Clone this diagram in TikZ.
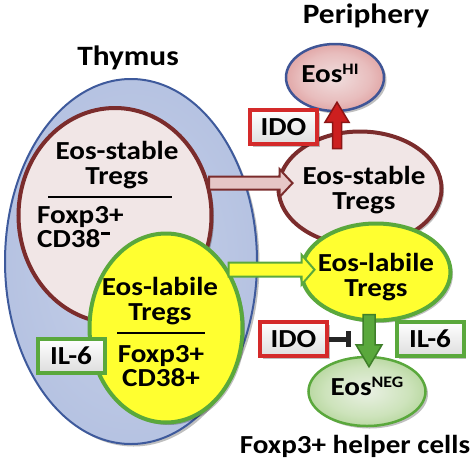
\documentclass[tikz,border=0pt]{standalone}
\usepackage{fontspec}
\setmainfont{Carlito}[FakeStretch=1.12]
\usetikzlibrary{shapes.geometric,arrows.meta,calc,shadows}
\definecolor{thyin}{HTML}{C6D0E9}
\definecolor{thyout}{HTML}{9DAED6}
\definecolor{thyborder}{HTML}{3E5A9C}
\definecolor{maroon}{HTML}{7B2C2C}
\definecolor{stin}{HTML}{F1E6E6}
\definecolor{stout}{HTML}{E6D2D2}
\definecolor{yel}{HTML}{FFFF30}
\definecolor{grn}{HTML}{5AA83C}
\definecolor{dkgrn}{HTML}{3F7F2A}
\definecolor{hiin}{HTML}{F0DEDE}
\definecolor{himid}{HTML}{E8BDBD}
\definecolor{hiout}{HTML}{CA5C5C}
\definecolor{hiborder}{HTML}{3F5596}
\definecolor{negin}{HTML}{E9F0E3}
\definecolor{negmid}{HTML}{CDE3BB}
\definecolor{negout}{HTML}{78B54E}
\definecolor{idored}{HTML}{D42A2A}
\definecolor{redfill}{HTML}{CC1F1F}
\definecolor{redborder}{HTML}{8B1515}
\definecolor{pinkfill}{HTML}{E6C6C6}
\definecolor{boxgray}{HTML}{DEDEDE}
\pgfdeclareradialshading{thyshade}{\pgfpoint{0bp}{0bp}}{color(0bp)=(thyin); color(25bp)=(thyin!60!thyout); color(50bp)=(thyout)}
\pgfdeclareradialshading{stshade}{\pgfpoint{0bp}{0bp}}{color(0bp)=(stin); color(30bp)=(stin); color(50bp)=(stout)}
\pgfdeclareradialshading{hishade}{\pgfpoint{0bp}{0bp}}{color(0bp)=(hiin); color(18bp)=(himid); color(50bp)=(hiout)}
\pgfdeclareradialshading{negshade}{\pgfpoint{0bp}{0bp}}{color(0bp)=(negin); color(18bp)=(negmid); color(50bp)=(negout)}
\newcommand\blockarrow[6]{%
  \path (#2) coordinate (ba-s) (#3) coordinate (ba-e);
  \path ($(ba-e)!#6!(ba-s)$) coordinate (ba-h);
  \draw[#1] ($(ba-s)!#4!90:(ba-e)$) -- ($(ba-h)!#4!-90:(ba-s)$) -- ($(ba-h)!#5!-90:(ba-s)$) -- (ba-e) -- ($(ba-h)!#5!90:(ba-s)$) -- ($(ba-h)!#4!90:(ba-s)$) -- ($(ba-s)!#4!-90:(ba-e)$) -- cycle;}
\begin{document}
\begin{tikzpicture}[x=1pt,y=-1pt,
  font=\fontsize{26}{26}\selectfont\bfseries,
  shad/.style={drop shadow={opacity=0.25, shadow xshift=2.5pt, shadow yshift=-2.5pt, fill=black}},
  ell/.style={ellipse, inner sep=0pt, shad},
  stable/.style={ell, shading=stshade, draw=maroon, line width=4pt},
  labile/.style={ell, fill=yel, draw=grn, line width=4pt},
  txt/.style={anchor=base, inner sep=0pt},
  ltxt/.style={anchor=base west, inner sep=0pt},
  box/.style={rectangle, minimum width=67pt, minimum height=34pt, line width=4pt, top color=white, bottom color=boxgray, inner sep=0pt, shad},
  idobox/.style={box, draw=idored},
  ilbox/.style={box, draw=grn},
  divider/.style={line width=2pt, black},
  pinkarrow/.style={fill=pinkfill, draw=maroon, line width=2pt},
  yelarrow/.style={fill=yel, draw=grn, line width=2pt},
  redarrow/.style={fill=redfill, draw=redborder, line width=1.5pt},
  grnarrow/.style={fill=grn, draw=dkgrn, line width=1.5pt},
  inhib/.style={line width=5pt, black!85, -{Bar[width=16pt, line width=5pt]}},
  title/.style={anchor=base, inner sep=0pt, font=\fontsize{28}{28}\selectfont\bfseries}
]
\useasboundingbox (0,0) rectangle (474,464);
% thymus
\node[ell, shading=thyshade, draw=thyborder, line width=2pt, minimum width=252pt, minimum height=365pt] (thy) at (131,261.5) {};
\node[stable, minimum width=193pt, minimum height=215pt] (ts) at (115,215.5) {};
\node[labile, minimum width=153pt, minimum height=189pt] (tl) at (166,328) {};
% periphery
\node[stable, minimum width=163pt, minimum height=114pt] (ps) at (360,188.5) {};
\node[labile, minimum width=149pt, minimum height=97pt] (pl) at (376,272) {};
\node[ell, shading=hishade, draw=hiborder, line width=2.5pt, minimum width=98pt, minimum height=67pt] (eh) at (335,77.5) {};
\node[ell, shading=negshade, draw=grn, line width=2.5pt, minimum width=117pt, minimum height=69pt] (en) at (367,391.5) {};
% block arrows
\coordinate (pkS) at (ts.19);
\coordinate (pkE) at ($(ts.19 -| ps.west)+(16,0)$);
\blockarrow{pinkarrow}{pkS}{pkE}{6.5pt}{14pt}{13pt}
\coordinate (ylS) at (tl.43);
\coordinate (ylE) at ($(tl.43 -| pl.west)+(15,0)$);
\blockarrow{yelarrow}{ylS}{ylE}{7pt}{15pt}{13pt}
\coordinate (rdS) at ($(ps.north)+(-23,19)$);
\coordinate (rdE) at ($(eh.south)+(2,-10)$);
\blockarrow{redarrow}{rdS}{rdE}{4.5pt}{12pt}{20pt}
\coordinate (gnS) at ($(pl.south)+(-7,-8)$);
\coordinate (gnE) at ($(en.north)+(2,11)$);
\blockarrow{grnarrow}{gnS}{gnE}{6pt}{13pt}{22pt}
% boxes
\node[idobox] (ido1) at (283.5,127) {IDO};
\node[idobox] (ido2) at (293.5,339) {IDO};
\node[ilbox] (il6r) at (430,339) {IL-6};
\node[ilbox] (il6l) at (71,355.5) {IL-6};
\coordinate (inhE) at ($(ido2.east)+(22,0)$);
\draw[inhib] (ido2.east) -- (inhE);
% titles
\node[title] (tThy) at (128,65) {Thymus};
\node[title] (tPer) at (366,23) {Periphery};
% thymus stable text
\node[txt] (ts1) at (117,159) {Eos-stable};
\node[txt] (ts2) at (117,184) {Tregs};
\draw[divider] (48,197) -- (172,197);
\node[ltxt] (ts3) at (37,223) {Foxp3+};
\node[ltxt] (ts4) at (37,247) {CD38\kern1pt\rule[12.5pt]{9pt}{3pt}};
% thymus labile text
\node[txt] (tl1) at (160,295) {Eos-labile};
\node[txt] (tl2) at (160,320) {Tregs};
\draw[divider] (117,333) -- (205,333);
\node[txt] (tl3) at (161,362) {Foxp3+};
\node[txt] (tl4) at (161,386) {CD38+};
% periphery text
\node[txt] (ps1) at (364,184) {Eos-stable};
\node[txt] (ps2) at (364,209) {Tregs};
\node[txt] (pl1) at (376,271) {Eos-labile};
\node[txt] (pl2) at (376,296) {Tregs};
\node[txt] (eh1) at (330,82) {Eos\raisebox{8pt}{\fontsize{16}{16}\selectfont HI}};
\node[txt] (en1) at (367,395) {Eos\raisebox{8pt}{\fontsize{16}{16}\selectfont NEG}};
\node[txt] (help) at (355,453) {Foxp3+ helper cells};
\end{tikzpicture}
\end{document}
